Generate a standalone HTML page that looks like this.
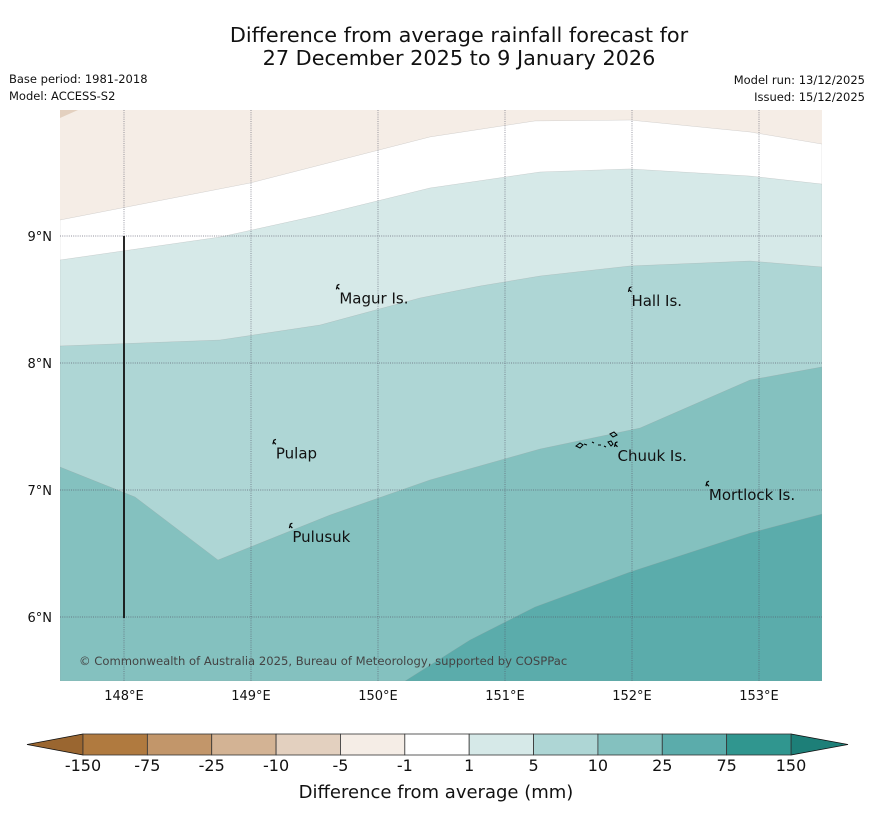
<!DOCTYPE html>
<html><head><meta charset="utf-8"><style>
body{margin:0;background:#fff;font-family:"Liberation Sans","DejaVu Sans",sans-serif;}
svg text{font-family:"DejaVu Sans","Liberation Sans",sans-serif;}
</style></head><body>
<svg id="chart" width="873" height="816" viewBox="0 0 873 816">
<text x="459" y="42" text-anchor="middle" font-size="20.8" fill="#111">Difference from average rainfall forecast for</text>
<text x="459" y="65" text-anchor="middle" font-size="20.8" fill="#111">27 December 2025 to 9 January 2026</text>
<text x="9" y="83" font-size="11.5" fill="#111">Base period: 1981-2018</text>
<text x="9" y="100" font-size="11.5" fill="#111">Model: ACCESS-S2</text>
<text x="865" y="84" font-size="11.5" fill="#111" text-anchor="end">Model run: 13/12/2025</text>
<text x="865" y="101" font-size="11.5" fill="#111" text-anchor="end">Issued: 15/12/2025</text>
<defs><clipPath id="mapclip"><rect x="60" y="110" width="762" height="571"/></clipPath></defs>
<g id="map" clip-path="url(#mapclip)"></g>
<g id="grid"></g>
<g id="labels"></g>
<g id="cbar"></g>
<text x="436" y="798" text-anchor="middle" font-size="18" fill="#111">Difference from average (mm)</text>
</svg>
<script>
const lonTicks=[148,149,150,151,152,153];
const latTicks=[6,7,8,9];
const bandColors=['#f5ede6','#ffffff','#d6e9e8','#aed6d5','#84c1bf','#5bacab'];
const b1Lon=[147.496,148.992,150.409,151.236,151.984,152.929,153.496];
const b1Lat=[9.126,9.417,9.780,9.906,9.913,9.819,9.724];
const b2Lon=[147.496,148.756,149.543,150.409,151.276,151.984,152.929,153.496];
const b2Lat=[8.811,8.992,9.165,9.378,9.504,9.528,9.472,9.409];
const b3Lon=[147.496,148.756,149.543,150.331,150.803,151.276,151.984,152.929,153.496];
const b3Lat=[8.134,8.181,8.299,8.512,8.606,8.685,8.764,8.803,8.756];
const b4Lon=[147.496,148.087,148.740,149.622,150.409,151.276,152.063,152.929,153.496];
const b4Lat=[7.181,6.945,6.449,6.803,7.079,7.323,7.488,7.866,7.969];
const b5Lon=[150.213,150.724,151.236,151.984,152.929,153.496];
const b5Lat=[5.496,5.819,6.079,6.354,6.661,6.811];
const places=['Magur Is.','Hall Is.','Pulap','Chuuk Is.','Mortlock Is.','Pulusuk'];
const placeLon=[149.68,151.98,149.18,151.87,152.59,149.31];
const placeLat=[8.58,8.56,7.36,7.34,7.03,6.70];
const cbarLabels=['-150','-75','-25','-10','-5','-1','1','5','10','25','75','150'];
const cbarColors=['#b07a3f','#c2966a','#d3b394','#e3d0bf','#f5ede6','#ffffff','#d6e9e8','#aed6d5','#84c1bf','#5bacab','#30968f'];

const X=lon=>124+(lon-148)*127;
const Y=lat=>236-(lat-9)*127;
const NS='http://www.w3.org/2000/svg';
function mk(tag,parent,attrs){const e=document.createElementNS(NS,tag);for(const k in attrs)e.setAttribute(k,attrs[k]);parent.appendChild(e);return e;}
const map=document.getElementById('map');
const bg=mk('rect',map,{x:60,y:110,width:762,height:571,fill:bandColors[0]});


const corner=mk('polygon',map,{points:'60,110 78,110 60,118',fill:'#e3d0bf'});


const bounds=[[b1Lon,b1Lat],[b2Lon,b2Lat],[b3Lon,b3Lat],[b4Lon,b4Lat],[b5Lon,b5Lat]];
const bandNames=['band-minus1-1','band-1-5','band-5-10','band-10-25','band-25-75'];
bounds.forEach((b,i)=>{
  let pts=b[0].map((lo,j)=>X(lo)+','+Y(b[1][j]));
  pts.push('822,681');pts.push(X(b[0][0])+',681');
  const p=mk('polygon',map,{points:pts.join(' '),fill:bandColors[i+1],stroke:'#999',"stroke-width":0.4,"stroke-opacity":0.5});
  
  
});
const grid=document.getElementById('grid');
lonTicks.forEach(l=>{
  const g=mk('line',grid,{x1:X(l),x2:X(l),y1:110,y2:681,stroke:'#556',"stroke-width":0.7,"stroke-dasharray":"1,1.2","stroke-opacity":0.85});
  
  
  const t=mk('text',grid,{x:X(l),y:700,"text-anchor":"middle","font-size":13,fill:'#111'});
  t.textContent=l+'°E';
  
  
});
latTicks.forEach(l=>{
  const g=mk('line',grid,{x1:60,x2:822,y1:Y(l),y2:Y(l),stroke:'#556',"stroke-width":0.7,"stroke-dasharray":"1,1.2","stroke-opacity":0.85});
  
  
  const t=mk('text',grid,{x:52,y:Y(l)+5,"text-anchor":"end","font-size":13,fill:'#111'});
  t.textContent=l+'°N';
  
  
});
const vl=mk('line',grid,{x1:124,x2:124,y1:236,y2:618,stroke:'#111',"stroke-width":1.8});


const labels=document.getElementById('labels');
places.forEach((p,i)=>{
  const x=X(placeLon[i]),y=Y(placeLat[i]);
  const m=mk('path',labels,{d:`M${x-1},${y} l1,-4 l2,-1 M${x},${y-2} l2,2`,stroke:'#000',"stroke-width":1.2,fill:'none'});
  
  
  const t=mk('text',labels,{x:x+2,y:y+14,"font-size":15,fill:'#111'});
  t.textContent=p;
  
  
});
const ch=mk('path',labels,{d:'M576,446 l4,-3 l3,2 l-3,3z M584,444 l3,1 M592,442 l2,1 M598,445 l3,0 M604,446 l2,1 M610,434 l4,-2 l3,3 l-4,2z M608,442 l3,-1 l2,3 l-2,2z',stroke:'#000',"stroke-width":1,fill:'none'});


const cp=mk('text',labels,{x:79,y:665,"font-size":11.6,fill:'#444'});
cp.textContent='© Commonwealth of Australia 2025, Bureau of Meteorology, supported by COSPPac';


const cb=document.getElementById('cbar');
const cx0=83,cw=(791-83)/11,cy=734,chh=21;
const lt=mk('polygon',cb,{points:`27,${cy+chh/2} ${cx0},${cy} ${cx0},${cy+chh}`,fill:'#9a6630',stroke:'#111',"stroke-width":0.8});


const rt=mk('polygon',cb,{points:`848,${cy+chh/2} 791,${cy} 791,${cy+chh}`,fill:'#1d7f78',stroke:'#111',"stroke-width":0.8});


cbarColors.forEach((c,i)=>{
  const r=mk('rect',cb,{x:cx0+i*cw,y:cy,width:cw,height:chh,fill:c,stroke:'#333',"stroke-width":0.8});
  
  
});
cbarLabels.forEach((l,i)=>{
  const t=mk('text',cb,{x:cx0+i*cw,y:771,"text-anchor":"middle","font-size":16,fill:'#111'});
  t.textContent=l;
  
  
});
</script>
</body></html>
